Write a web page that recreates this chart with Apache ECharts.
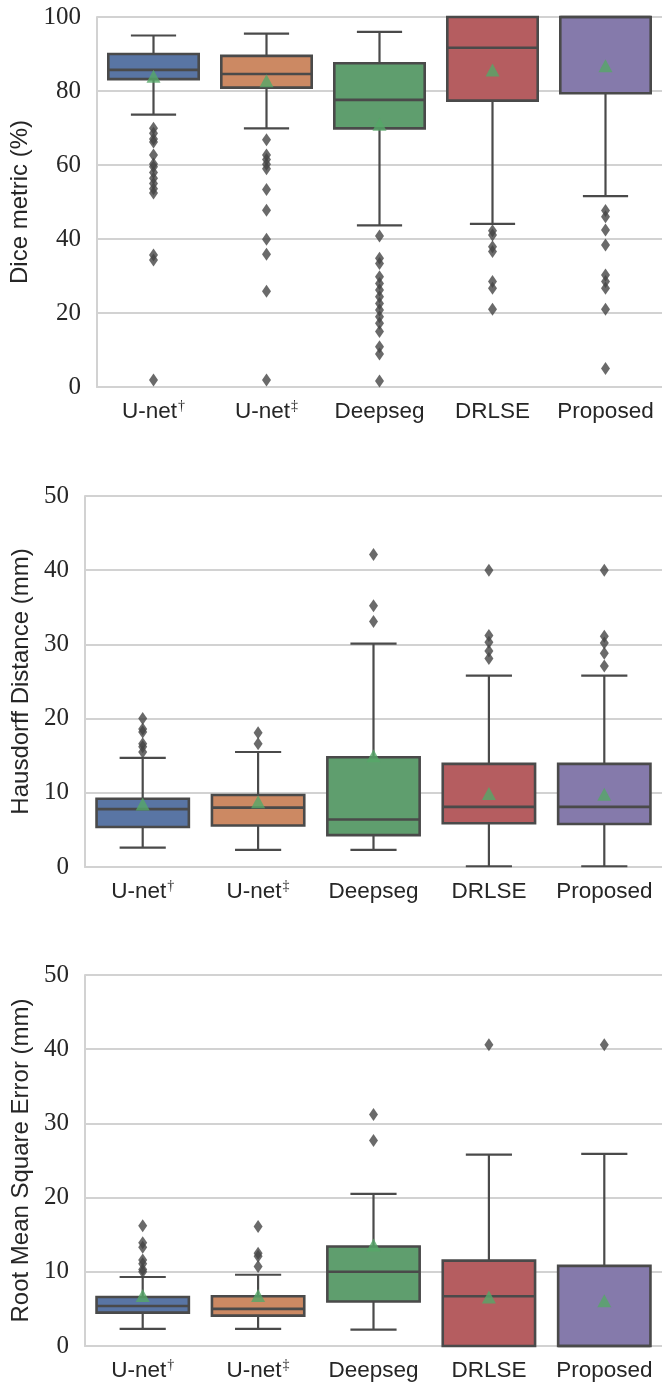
<!DOCTYPE html>
<html>
<head>
<meta charset="utf-8">
<script src="https://cdn.jsdelivr.net/npm/echarts@6/dist/echarts.min.js"></script>
<style>
  html, body { margin: 0; padding: 0; background: #ffffff; }
  #chart { width: 662px; height: 1386px; }
</style>
</head>
<body>
<div id="chart"></div>
<script>
// Methods compared in every panel
const categories = ['U-net†', 'U-net‡', 'Deepseg', 'DRLSE', 'Proposed'];
const boxColors = ['#5975a4', '#cc8963', '#5f9e6e', '#b55d60', '#857aab'];

// Dice metric (%): whisker low, Q1, median, Q3, whisker high, mean
const diceLow    = [73.6, 69.9, 43.7, 44.1, 51.6];
const diceQ1     = [83.2, 80.9, 69.9, 77.4, 79.4];
const diceMedian = [85.7, 84.6, 77.6, 91.7, 100];
const diceQ3     = [90.0, 89.5, 87.5, 100, 100];
const diceHigh   = [95.0, 95.5, 96.0, 100, 100];
const diceMean   = [84.0, 82.8, 71.0, 85.7, 86.8];
const diceOutliers = [
  [69.9, 68.6, 67.0, 66.2, 62.7, 60.3, 59.5, 58.0, 56.4, 55.0, 53.6, 52.4, 35.7, 34.3, 1.9],
  [66.8, 62.7, 61.5, 60.2, 59.0, 53.4, 47.8, 39.9, 35.9, 25.9, 1.9],
  [40.8, 34.8, 33.4, 29.8, 28.0, 26.2, 24.4, 22.6, 20.8, 19.0, 17.2, 15.0, 10.9, 8.9, 1.6],
  [42.2, 41.1, 37.9, 36.6, 28.5, 26.7, 21.0],
  [47.7, 46.0, 42.4, 38.4, 30.3, 28.5, 26.7, 21.0, 5.0]
];

// Hausdorff distance (mm)
const hdLow    = [2.6, 2.3, 2.3, 0.1, 0.1];
const hdQ1     = [5.4, 5.6, 4.3, 5.9, 5.8];
const hdMedian = [7.8, 8.0, 6.4, 8.1, 8.1];
const hdQ3     = [9.2, 9.7, 14.8, 13.9, 13.9];
const hdHigh   = [14.7, 15.5, 30.1, 25.8, 25.8];
const hdMean   = [8.5, 8.8, 15.0, 9.9, 9.8];
const hdOutliers = [
  [20.0, 18.6, 18.2, 16.6, 16.2, 15.5],
  [18.1, 16.6],
  [42.1, 35.2, 33.1],
  [40.0, 31.2, 30.3, 29.1, 28.1],
  [40.0, 31.1, 30.2, 28.8, 27.1]
];

// Root mean square error (mm)
const rmseLow    = [2.3, 2.3, 2.2, 0, 0];
const rmseQ1     = [4.5, 4.1, 6.0, 0, 0];
const rmseMedian = [5.4, 5.0, 10.0, 6.7, 0];
const rmseQ3     = [6.6, 6.7, 13.4, 11.5, 10.8];
const rmseHigh   = [9.3, 9.6, 20.5, 25.8, 25.9];
const rmseMean   = [6.8, 6.8, 13.6, 6.6, 6.1];
const rmseOutliers = [
  [16.2, 13.9, 13.3, 11.6, 11.1, 10.3, 10.0],
  [16.1, 12.5, 12.1, 10.7],
  [31.2, 27.7],
  [40.6],
  [40.6]
];

const yTicksTop = { min: 0, max: 100, interval: 20 };
const yTicksLower = { min: 0, max: 50, interval: 10 };

const EDGE = '#4a4a4a';
const GRID_LINE = '#d2d2d2';
const SANS = '"Liberation Sans", Arial, sans-serif';
const SERIF = '"Liberation Serif", "Times New Roman", serif';

const panels = [
  { title: 'Dice metric (%)', ticks: yTicksTop, low: diceLow, q1: diceQ1, med: diceMedian, q3: diceQ3, high: diceHigh, mean: diceMean, out: diceOutliers,
    grid: { left: 97, top: 17, width: 570, height: 370 }, nameGap: 61 },
  { title: 'Hausdorff Distance (mm)', ticks: yTicksLower, low: hdLow, q1: hdQ1, med: hdMedian, q3: hdQ3, high: hdHigh, mean: hdMean, out: hdOutliers,
    grid: { left: 85, top: 496, width: 582, height: 371 }, nameGap: 49 },
  { title: 'Root Mean Square Error (mm)', ticks: yTicksLower, low: rmseLow, q1: rmseQ1, med: rmseMedian, q3: rmseQ3, high: rmseHigh, mean: rmseMean, out: rmseOutliers,
    grid: { left: 85, top: 975, width: 582, height: 371 }, nameGap: 49 }
];

// Box, whiskers (caps half the box width) and median, seaborn style
function renderBox(params, api) {
  const x = api.value(0);
  const pLow = api.coord([x, api.value(1)]);
  const pQ1 = api.coord([x, api.value(2)]);
  const pMed = api.coord([x, api.value(3)]);
  const pQ3 = api.coord([x, api.value(4)]);
  const pHigh = api.coord([x, api.value(5)]);
  const band = api.size([1, 0])[0];
  const bw = band * 0.8;
  const cx = pQ1[0];
  const capHalf = bw / 4;
  const lineStyle = { stroke: EDGE, lineWidth: 2.2, fill: null };
  return {
    type: 'group',
    children: [
      { type: 'line', shape: { x1: cx, y1: pLow[1], x2: cx, y2: pQ1[1] }, style: lineStyle },
      { type: 'line', shape: { x1: cx, y1: pQ3[1], x2: cx, y2: pHigh[1] }, style: lineStyle },
      { type: 'line', shape: { x1: cx - capHalf, y1: pLow[1], x2: cx + capHalf, y2: pLow[1] }, style: lineStyle },
      { type: 'line', shape: { x1: cx - capHalf, y1: pHigh[1], x2: cx + capHalf, y2: pHigh[1] }, style: lineStyle },
      { type: 'rect', shape: { x: cx - bw / 2, y: pQ3[1], width: bw, height: pQ1[1] - pQ3[1] },
        style: { fill: boxColors[api.value(6)], stroke: EDGE, lineWidth: 2.6 } },
      { type: 'line', shape: { x1: cx - bw / 2, y1: pMed[1], x2: cx + bw / 2, y2: pMed[1] }, style: { stroke: EDGE, lineWidth: 2.6 } }
    ]
  };
}

function catLabel(value) {
  const last = value.slice(-1);
  if (last === '†' || last === '‡') {
    return '{a|' + value.slice(0, -1) + '}{s|' + last + '}';
  }
  return '{a|' + value + '}';
}

const option = {
  animation: false,
  backgroundColor: '#ffffff',
  grid: panels.map(p => p.grid),
  xAxis: panels.map((p, i) => ({
    type: 'category',
    gridIndex: i,
    data: categories,
    boundaryGap: true,
    axisTick: { show: false },
    axisLine: { show: true, lineStyle: { color: GRID_LINE, width: 2 } },
    splitLine: { show: false },
    axisLabel: {
      margin: 12,
      formatter: catLabel,
      rich: {
        a: { fontFamily: SANS, fontSize: 22.5, color: '#262626', lineHeight: 26 },
        s: { fontFamily: SERIF, fontSize: 14, color: '#262626', lineHeight: 26, verticalAlign: 'top', padding: [0, 0, 10, 1] }
      }
    }
  })),
  yAxis: panels.map((p, i) => ({
    type: 'value',
    gridIndex: i,
    min: p.ticks.min,
    max: p.ticks.max,
    interval: p.ticks.interval,
    name: p.title,
    nameLocation: 'middle',
    nameGap: p.nameGap,
    nameTextStyle: { fontFamily: SANS, fontSize: 24, color: '#262626' },
    axisLine: { show: true, lineStyle: { color: GRID_LINE, width: 2 } },
    axisTick: { show: false },
    axisLabel: { margin: 16, fontFamily: SERIF, fontSize: 25, color: '#262626' },
    splitLine: { show: true, lineStyle: { color: GRID_LINE, width: 2 } }
  })),
  series: []
};

panels.forEach((p, i) => {
  const boxData = categories.map((c, k) => [k, p.low[k], p.q1[k], p.med[k], p.q3[k], p.high[k], k]);
  option.series.push({
    type: 'custom',
    xAxisIndex: i,
    yAxisIndex: i,
    renderItem: renderBox,
    encode: { x: 0, y: [1, 2, 3, 4, 5] },
    data: boxData,
    clip: false,
    z: 2
  });
  const outData = [];
  p.out.forEach((vals, k) => vals.forEach(v => outData.push([k, v])));
  option.series.push({
    type: 'scatter',
    xAxisIndex: i,
    yAxisIndex: i,
    symbol: 'diamond',
    symbolSize: [9, 13],
    itemStyle: { color: '#454545' },
    data: outData,
    z: 3
  });
  option.series.push({
    type: 'scatter',
    xAxisIndex: i,
    yAxisIndex: i,
    symbol: 'triangle',
    symbolSize: [14, 13],
    itemStyle: { color: '#55a868' },
    data: p.mean.map((v, k) => [k, v]),
    z: 4
  });
});

const chart = echarts.init(document.getElementById('chart'), null, { renderer: 'canvas' });
chart.setOption(option);
</script>
</body>
</html>
